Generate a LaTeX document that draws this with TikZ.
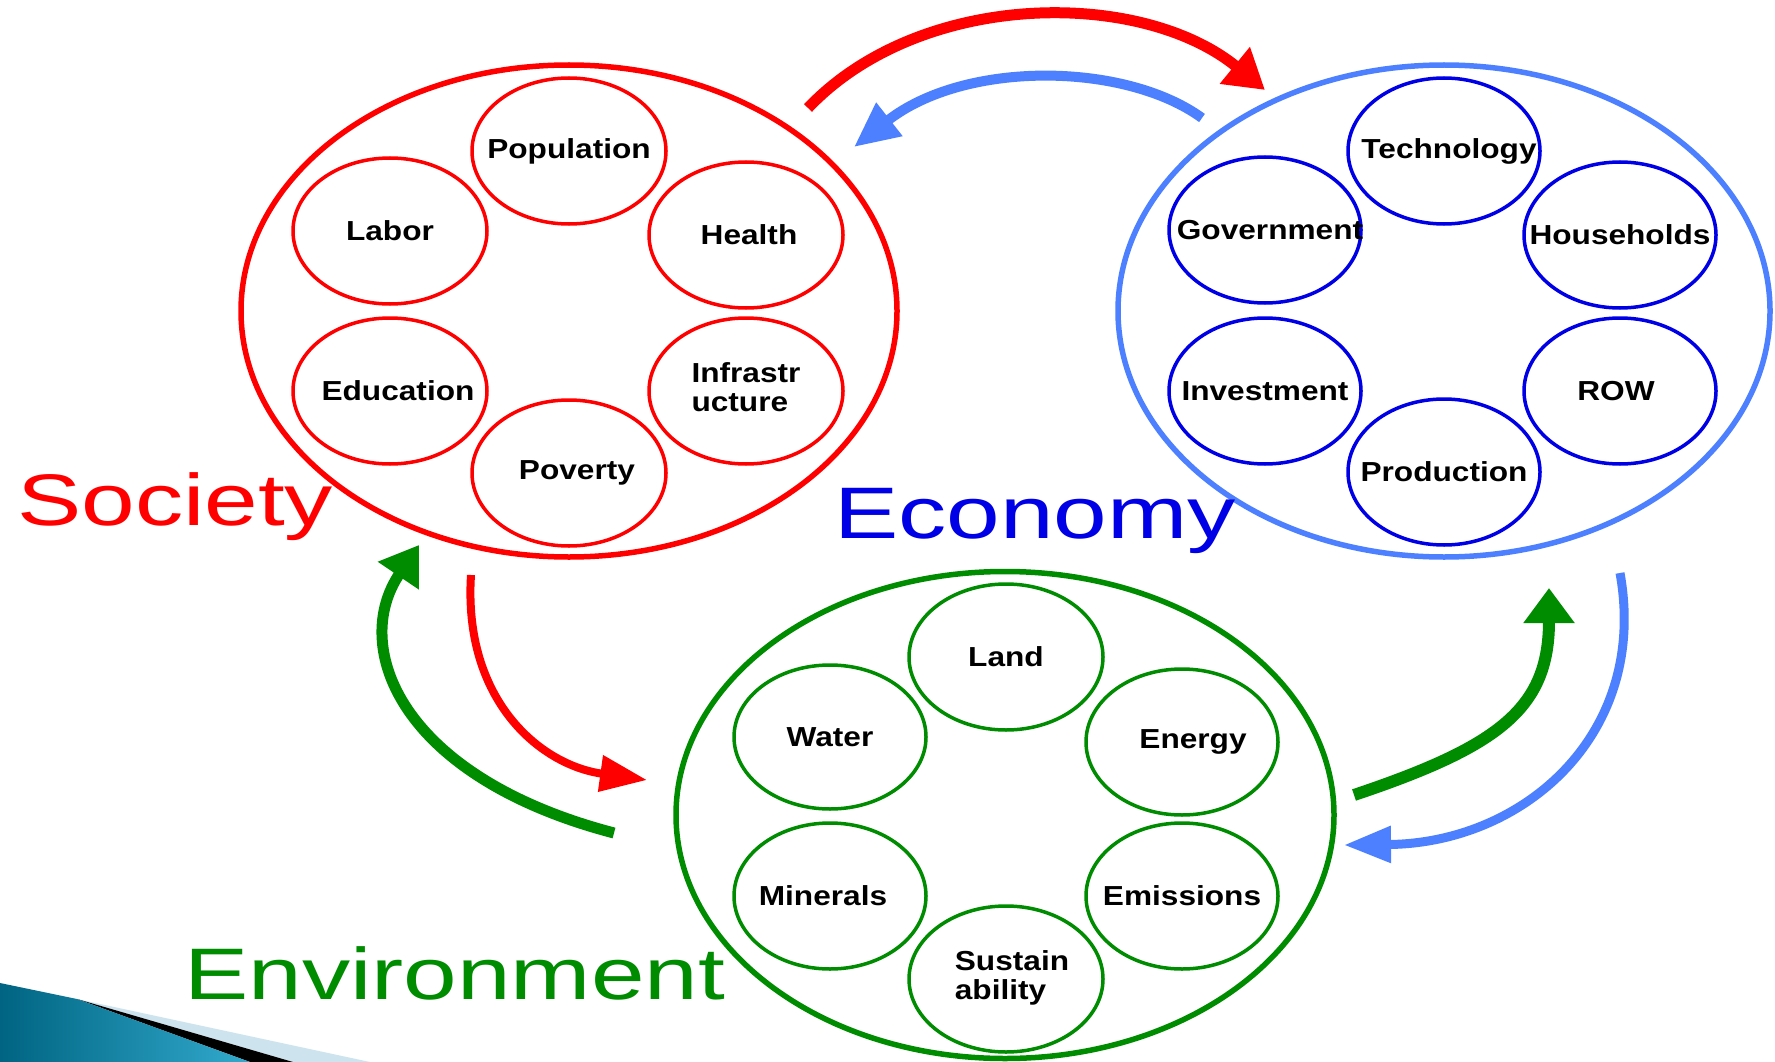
\documentclass[tikz,border=0pt]{standalone}
\usepackage{fontspec}
\setmainfont{Liberation Sans}
\newfontfamily\bigfont{Liberation Sans}[FakeStretch=1.32]
\newfontfamily\lblfont{Liberation Sans}[FakeStretch=1.15]
\usetikzlibrary{shapes.geometric,arrows.meta}
\definecolor{socred}{RGB}{255,0,0}
\definecolor{ecolight}{RGB}{77,128,255}
\definecolor{ecodark}{RGB}{0,0,230}
\definecolor{envgreen}{RGB}{0,140,0}
\definecolor{tealdark}{RGB}{0,100,130}
\definecolor{teallight}{RGB}{50,170,205}
\definecolor{palecyan}{RGB}{205,228,238}
\tikzset{
  bigell/.style={ellipse, draw, line width=5.5pt, inner sep=0pt},
  smallell/.style={ellipse, draw, line width=3.5pt, inner sep=0pt,
    minimum width=194pt, minimum height=146pt, text=black,
    font=\lblfont\bfseries\fontsize{27.5}{29}\selectfont},
  bigtext/.style={font=\bigfont\fontsize{73}{80}\selectfont, inner sep=0pt, anchor=base west},
  flow/.style={line width=#1},
}
\begin{document}
\begin{tikzpicture}[x=1pt,y=-1pt]
\useasboundingbox (0,0) rectangle (1775,1062);
\fill[white] (0,0) rectangle (1775,1062);

% bottom-left slide decoration
\fill[palecyan] (77,999) -- (370,1062) -- (293,1062) -- cycle;
\fill[black] (77,999) -- (293,1062) -- (250,1062) -- cycle;
\shade[left color=tealdark, right color=teallight] (0,983) -- (77,999) -- (250,1062) -- (0,1062) -- cycle;

% big ellipses
\node[bigell, draw=socred, minimum width=656pt, minimum height=492pt] (soc) at (569,311) {};
\node[bigell, draw=ecolight, minimum width=652pt, minimum height=492pt] (eco) at (1444,311) {};
\node[bigell, draw=envgreen, minimum width=658pt, minimum height=487pt] (env) at (1005,815) {};

% society
\node[smallell, draw=socred] (pop) at (569,151) {\makebox[0pt]{Population}};
\node[smallell, draw=socred] (lab) at (390,231) {\makebox[0pt]{Labor}};
\node[smallell, draw=socred] (hea) at (746,235) {\makebox[0pt]{\hspace*{6pt}Health}};
\node[smallell, draw=socred] (edu) at (390,391) {\makebox[0pt]{\hspace*{16pt}Education}};
\node[smallell, draw=socred] (inf) at (746,391) {\makebox[0pt]{\begin{tabular}{@{}l@{}}Infrastr\\ucture\end{tabular}}};
\node[smallell, draw=socred] (pov) at (569,473) {\makebox[0pt]{\hspace*{16pt}Poverty}};

% economy
\node[smallell, draw=ecodark, minimum width=192pt] (tec) at (1444,151) {\makebox[0pt]{\hspace*{10pt}Technology}};
\node[smallell, draw=ecodark, minimum width=192pt] (gov) at (1265,230) {\makebox[0pt]{\hspace*{10pt}Government}};
\node[smallell, draw=ecodark, minimum width=192pt] (hou) at (1620,235) {\makebox[0pt]{Households}};
\node[smallell, draw=ecodark, minimum width=192pt] (inv) at (1265,391) {\makebox[0pt]{Investment}};
\node[smallell, draw=ecodark, minimum width=192pt] (row) at (1620,391) {\makebox[0pt]{ROW\hspace*{8pt}}};
\node[smallell, draw=ecodark, minimum width=192pt] (pro) at (1444,472) {\makebox[0pt]{Production}};

% environment
\node[smallell, draw=envgreen] (land) at (1006,657) {\makebox[0pt]{Land}};
\node[smallell, draw=envgreen, minimum width=192pt, minimum height=144pt] (wat) at (830,737) {\makebox[0pt]{Water}};
\node[smallell, draw=envgreen, minimum width=192pt] (ene) at (1182,742) {\makebox[0pt]{\hspace*{22pt}Energy}};
\node[smallell, draw=envgreen, minimum width=192pt] (min) at (830,896) {\makebox[0pt]{Minerals\hspace*{14pt}}};
\node[smallell, draw=envgreen, minimum width=192pt] (emi) at (1182,896) {\makebox[0pt]{Emissions}};
\node[smallell, draw=envgreen] (sus) at (1006,979) {\makebox[0pt]{\hspace*{12pt}\begin{tabular}{@{}l@{}}Sustain\\ability\end{tabular}}};

% arrow end points
\coordinate (r1s) at (808,108);
\coordinate (r1e) at (1265,90);
\coordinate (b1s) at (1202,118);
\coordinate (b1e) at (854,147);
\coordinate (g1s) at (614,833);
\coordinate (g1e) at (419,545);
\coordinate (r2s) at (471,575);
\coordinate (r2e) at (647,780);
\coordinate (g2s) at (1354,795);
\coordinate (g2e) at (1549,588);
\coordinate (b2s) at (1620,573);
\coordinate (b2e) at (1344,845);

% arrows
\draw[socred, flow=11pt, -{Triangle[length=39pt,width=45pt]}]
  (r1s) .. controls (920,-10) and (1140,-12) .. (r1e);
\draw[ecolight, flow=10pt, -{Triangle[length=45pt,width=40pt]}]
  (b1s) .. controls (1125,62) and (965,60) .. (b1e);
\draw[envgreen, flow=11pt, -{Triangle[length=37pt,width=47pt]}]
  (g1s) .. controls (400,777) and (350,647) .. (g1e);
\draw[socred, flow=8pt, -{Triangle[length=47pt,width=35pt]}]
  (r2s) .. controls (463,700) and (540,765) .. (r2e);
\draw[envgreen, flow=12pt, -{Triangle[length=35pt,width=49pt]}]
  (g2s) .. controls (1500,746) and (1549,708) .. (g2e);
\draw[ecolight, flow=9pt, -{Triangle[length=47pt,width=35pt]}]
  (b2s) .. controls (1649,734) and (1524,843) .. (b2e);

% titles
\node[bigtext, text=socred] (tsoc) at (17,525) {Society};
\node[bigtext, text=ecodark] (teco) at (834,538) {Economy};
\node[bigtext, text=envgreen] (tenv) at (184,999) {Environment};
\end{tikzpicture}
\end{document}
